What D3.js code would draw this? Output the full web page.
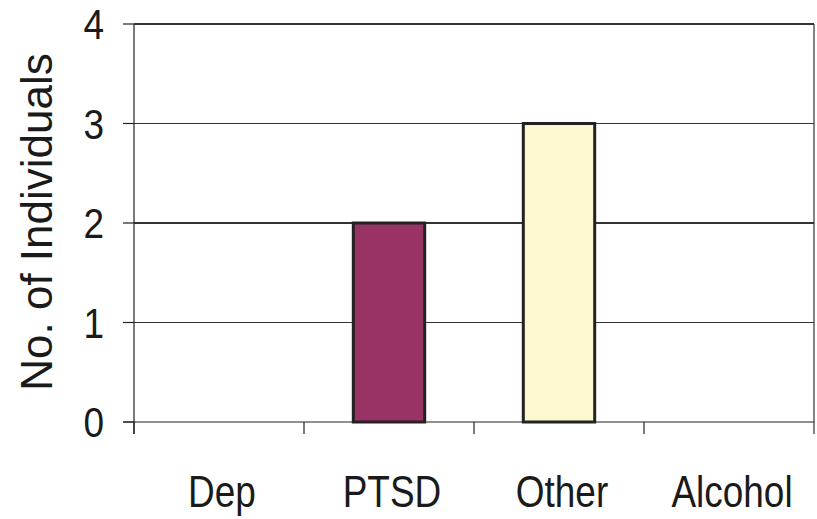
<!DOCTYPE html>
<html><head><meta charset="utf-8">
<script src="https://cdn.jsdelivr.net/npm/d3@7"></script>
<style>body{margin:0;background:#fff}svg{display:block}text{font-family:"Liberation Sans",Arial,sans-serif;fill:#1a1a1a}</style>
</head><body>
<svg id="c" width="817" height="519"></svg>
<script>
const categories = ["Dep", "PTSD", "Other", "Alcohol"];
const values = [0, 2, 3, 0];
const barColors = ["#993366", "#993366", "#FCF8D0", "#993366"];
const yTicks = [0, 1, 2, 3, 4];
const yTitle = "No. of Individuals";

const svg = d3.select("#c");
const m = {left:134, right:3, top:24, bottom:97};
const W = 817, H = 519;
const x = d3.scaleBand().domain(categories).range([m.left, W - m.right]).paddingInner(0.58).paddingOuter(0.29);
const xb = d3.scaleBand().domain(categories).range([m.left, W - m.right]);
const y = d3.scaleLinear().domain([0, 4]).range([H - m.bottom, m.top]);

// gridlines
svg.append("g").selectAll("line").data(yTicks.filter(d => d > 0)).join("line")
  .attr("x1", m.left).attr("x2", W - m.right)
  .attr("y1", d => y(d)).attr("y2", d => y(d))
  .attr("stroke", "#333").attr("stroke-width", 1.2).attr("shape-rendering","crispEdges");
// right border
svg.append("line").attr("x1", W - m.right).attr("x2", W - m.right)
  .attr("y1", y(4)).attr("y2", y(0) + 12).attr("stroke", "#333").attr("stroke-width", 1.2);

// bars
svg.append("g").selectAll("rect").data(categories.map((c, i) => ({c, v: values[i], col: barColors[i]})).filter(d => d.v > 0)).join("rect")
  .attr("x", d => x(d.c)).attr("width", x.bandwidth())
  .attr("y", d => y(d.v)).attr("height", d => y(0) - y(d.v))
  .attr("fill", d => d.col).attr("stroke", "#222").attr("stroke-width", 3);

// y axis
svg.append("line").attr("x1", m.left).attr("x2", m.left).attr("y1", y(4)).attr("y2", y(0) + 12)
  .attr("stroke", "#222").attr("stroke-width", 1.2);
svg.append("g").selectAll("line").data(yTicks).join("line")
  .attr("x1", m.left - 11).attr("x2", m.left).attr("y1", d => y(d)).attr("y2", d => y(d))
  .attr("stroke", "#222").attr("stroke-width", 1.2);
svg.append("g").selectAll("text").data(yTicks).join("text")
  .attr("transform", d => `translate(${m.left - 30},${y(d) + 15}) scale(0.88,1)`)
  .attr("text-anchor", "end").attr("font-size", 42).text(d => d);

// x axis
svg.append("line").attr("x1", m.left - 11).attr("x2", W - m.right).attr("y1", y(0)).attr("y2", y(0))
  .attr("stroke", "#222").attr("stroke-width", 1.2);
svg.append("g").selectAll("line").data(categories).join("line")
  .attr("x1", d => xb(d)).attr("x2", d => xb(d)).attr("y1", y(0)).attr("y2", y(0) + 12)
  .attr("stroke", "#222").attr("stroke-width", 1.2);
svg.append("g").selectAll("text").data(categories).join("text")
  .attr("transform", d => `translate(${xb(d) + xb.bandwidth()/2 + 3},${y(0) + 85}) scale(0.84,1)`)
  .attr("text-anchor", "middle").attr("font-size", 44).text(d => d);

// y title
svg.append("text").attr("transform", `translate(52,${(y(0)+y(4))/2 - 1}) rotate(-90)`)
  .attr("text-anchor", "middle").attr("font-size", 44).text(yTitle);
</script>
</body></html>
